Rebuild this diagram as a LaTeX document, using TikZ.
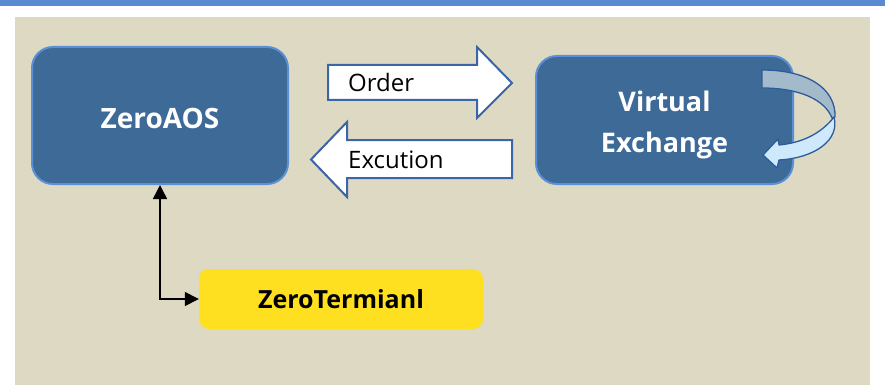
\documentclass[tikz,border=0pt]{standalone}
\usepackage{fontspec}
\setmainfont{Open Sans}
\usetikzlibrary{arrows.meta}
\definecolor{topbar}{HTML}{5A8AD2}
\definecolor{beige}{HTML}{DDD9C3}
\definecolor{boxfill}{HTML}{3E6A98}
\definecolor{boxline}{HTML}{5B8FD6}
\definecolor{arrline}{HTML}{3A65A8}
\definecolor{yel}{HTML}{FFE020}
\definecolor{ribtop}{HTML}{A3BACB}
\definecolor{ribbot}{HTML}{CDE9FB}
\definecolor{ribline}{HTML}{2E5C9A}
\tikzset{
  bluebox/.style={draw=boxline, line width=2pt, fill=boxfill, rounded corners=21pt, inner sep=0pt},
  boxtext/.style={text=white, font=\fontsize{27}{41}\selectfont\bfseries, align=center, inner sep=0pt},
  yelbox/.style={fill=yel, rounded corners=10pt, inner sep=0pt,
    font=\fontsize{25}{30}\selectfont\bfseries},
  blockarrow/.style={draw=arrline, line width=2pt, fill=white, line join=miter},
  arrlabel/.style={font=\fontsize{24}{28}\selectfont, anchor=west, inner sep=0pt},
  ribbon/.style={draw=ribline, line width=1.3pt, line join=round},
  link/.style={draw=black, line width=1.5pt, {Triangle[length=14pt,width=14pt]}-{Triangle[length=14pt,width=14pt]}}
}
\begin{document}
\begin{tikzpicture}[x=1pt,y=-1pt]
\useasboundingbox (0,0) rectangle (885,385);
\fill[white] (0,0) rectangle (885,385);
\fill[topbar] (0,0) rectangle (885,6);
\fill[beige] (15,17) rectangle (870,385);

\node[bluebox, minimum width=256pt, minimum height=137pt] (aos) at (160,115.5) {};
\node[boxtext, font=\fontsize{28}{34}\selectfont\bfseries] (aostext) at (160,118) {ZeroAOS};
\node[bluebox, minimum width=257pt, minimum height=128pt] (vx) at (664.5,120) {};
\node[boxtext] (vxtext) at (664.5,125) {Virtual\\Exchange};
\node[yelbox, minimum width=284pt, minimum height=60pt] (term) at (341,299) {ZeroTermianl};

% block arrows
\draw[blockarrow] (328,65) -- (477,65) -- (477,47) -- (512,83) -- (477,118) -- (477,100) -- (328,100) -- cycle;
\draw[blockarrow] (512,140) -- (347,140) -- (347,122) -- (311,159.5) -- (347,197) -- (347,178) -- (512,178) -- cycle;
\node[arrlabel] (order) at (348,83) {Order};
\node[arrlabel] (exec) at (348,160) {Excution};

% curved ribbon arrow
\filldraw[ribbon, fill=ribtop] (762,70) .. controls (810,70) and (836,90) .. (835,117)
   -- (832,118) .. controls (825,100) and (800,88) .. (762,88) -- cycle;
\filldraw[ribbon, fill=ribbot] (834,117) .. controls (820,135) and (800,143) .. (779,145)
   -- (778,139) -- (763,155) -- (777,168) -- (779,160)
   .. controls (815,158) and (840,140) .. (834,117) -- cycle;

% connector
\draw[link] (aos.south) |- (term.west);
\end{tikzpicture}
\end{document}
